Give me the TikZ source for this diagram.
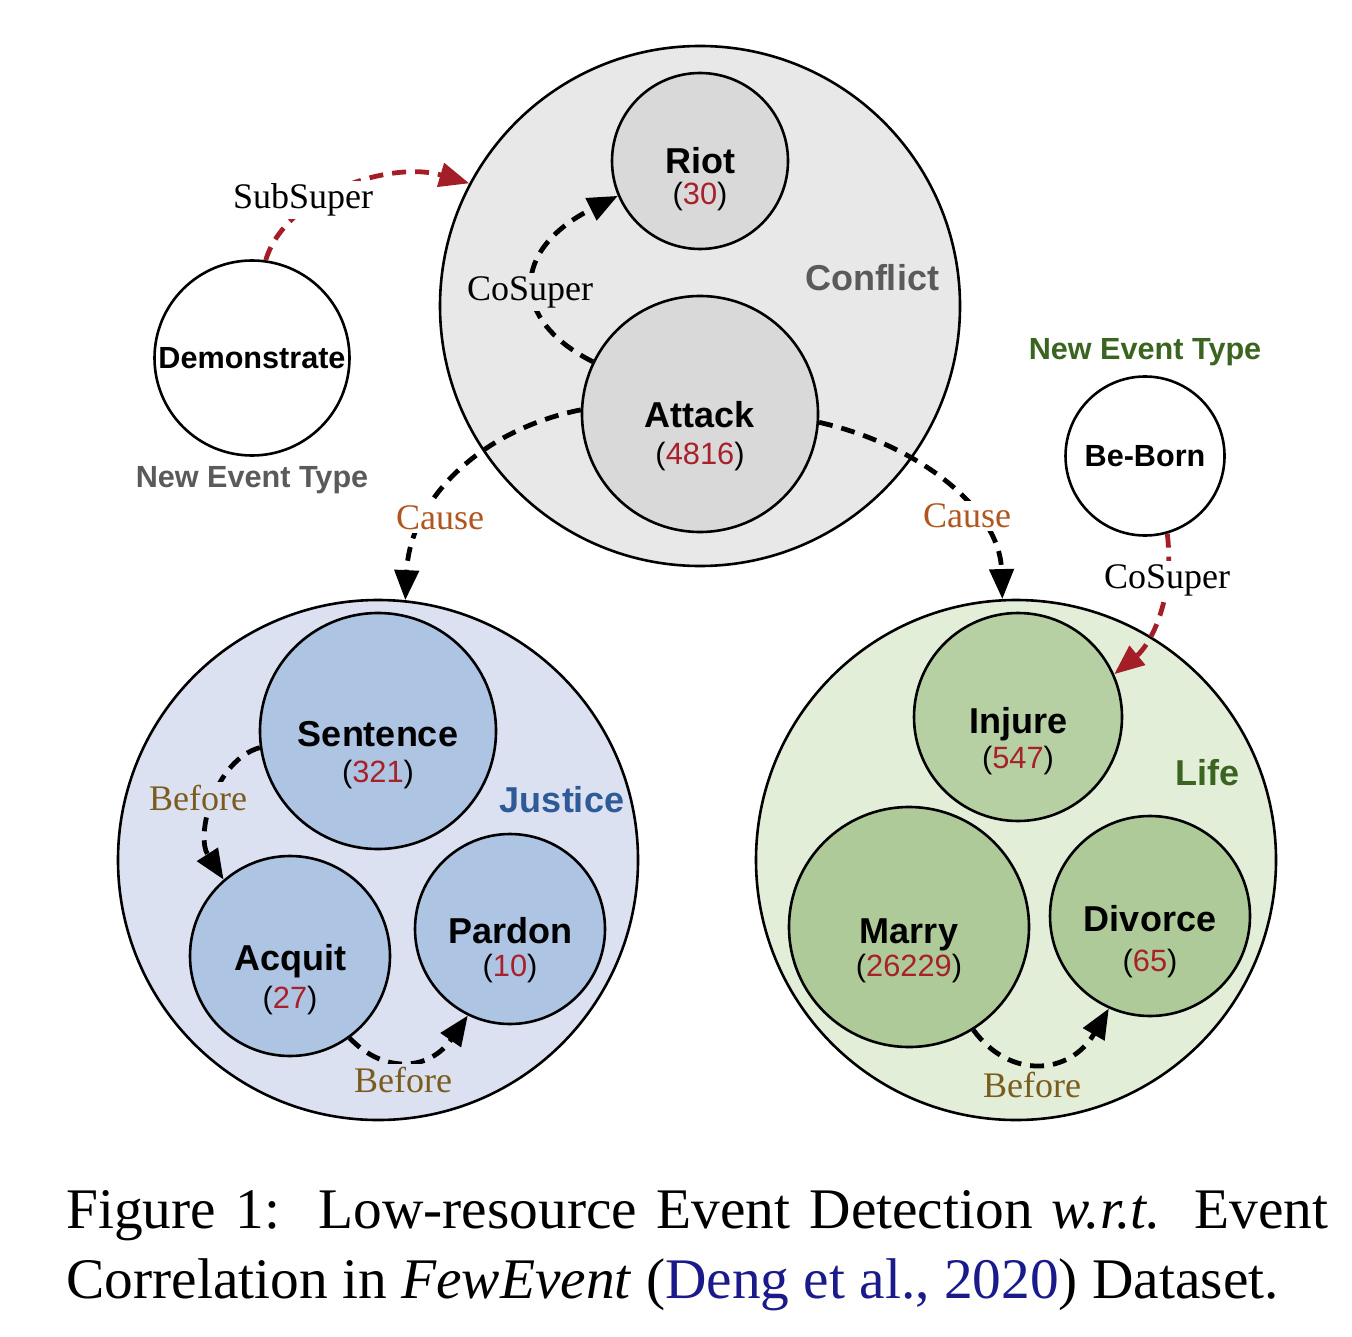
\documentclass[tikz,border=0pt]{standalone}
\usepackage{fontspec}
\setmainfont{Liberation Serif}
\setsansfont{Liberation Sans}
\usetikzlibrary{arrows.meta}
\definecolor{confout}{HTML}{E8E8E8}
\definecolor{confin}{HTML}{D9D9D9}
\definecolor{jusout}{HTML}{DCE1F1}
\definecolor{jusin}{HTML}{ADC4E3}
\definecolor{lifeout}{HTML}{E3EED8}
\definecolor{lifein}{HTML}{B6D0A4}
\definecolor{lifein2}{HTML}{AFCA99}
\definecolor{numred}{HTML}{A8202A}
\definecolor{graytxt}{HTML}{5A5A5A}
\definecolor{justxt}{HTML}{2E5A98}
\definecolor{lifetxt}{HTML}{3A6420}
\definecolor{causetxt}{HTML}{B0561E}
\definecolor{beforetxt}{HTML}{7A5C1E}
\definecolor{relred}{HTML}{A31E26}
\definecolor{citeblue}{HTML}{1A1A8A}
\newcommand{\cnum}[1]{(\textcolor{numred}{#1})}
\begin{document}
\begin{tikzpicture}[x=0.5pt,y=-0.5pt,
  ev/.style={circle, draw=black, line width=1.3pt, inner sep=0pt},
  nm/.style={font=\sffamily\bfseries\fontsize{18}{20}\selectfont, anchor=base, inner sep=0pt},
  cnt/.style={font=\sffamily\fontsize{15.4}{18}\selectfont, anchor=base, inner sep=0pt},
  grp/.style={font=\sffamily\bfseries\fontsize{18}{20}\selectfont, inner sep=0pt},
  newt/.style={font=\sffamily\bfseries\fontsize{15.3}{18}\selectfont, inner sep=0pt},
  rel/.style={dash pattern=on 7pt off 4.5pt, line width=2.4pt, -{Triangle[length=15pt,width=12pt]}},
  redrel/.style={rel, color=relred},
  elab/.style={font=\fontsize{18}{20}\selectfont, inner sep=1.5pt},
  captxt/.style={font=\fontsize{28.7}{35}\selectfont, anchor=base west, inner sep=0pt}]
\useasboundingbox (0,0) rectangle (1352,1336);

% group circles
\node[ev, fill=confout, minimum size=260pt] (conflict) at (700,306) {};
\node[ev, fill=jusout, minimum size=260pt] (justice) at (378,860) {};
\node[ev, fill=lifeout, minimum size=260pt] (life) at (1016,860) {};

% inner circles
\node[ev, fill=confin, minimum size=88pt] (riot) at (700,161) {};
\node[ev, fill=confin, minimum size=118pt] (attack) at (700,414) {};
\node[ev, fill=jusin, minimum size=118pt] (sentence) at (378,731) {};
\node[ev, fill=jusin, minimum size=100pt] (acquit) at (290,956) {};
\node[ev, fill=jusin, minimum size=95pt] (pardon) at (510,929) {};
\node[ev, fill=lifein, minimum size=104pt] (injure) at (1018,717) {};
\node[ev, fill=lifein2, minimum size=120pt] (marry) at (909,927) {};
\node[ev, fill=lifein2, minimum size=100pt] (divorce) at (1150,916) {};

% new event types
\node[ev, fill=white, minimum size=97.5pt] (demo) at (252,358) {};
\node[newt] (demoT) at (252,358) {Demonstrate};
\node[ev, fill=white, minimum size=79.5pt] (beborn) at (1145,456) {};
\node[newt] (bebornT) at (1145,456) {Be-Born};
\node[newt, text=graytxt] (newA) at (252,480) {New Event Type};
\node[newt, text=lifetxt] (newB) at (1145,352) {New Event Type};

% node texts
\node[nm] (riotN) at (700,174) {Riot};
\node[cnt] (riotC) at (700,205) {\cnum{30}};
\node[nm] (attackN) at (700,428) {Attack};
\node[cnt] (attackC) at (700,464) {\cnum{4816}};
\node[nm] (sentenceN) at (378,746) {Sentence};
\node[cnt] (sentenceC) at (378,782) {\cnum{321}};
\node[nm] (acquitN) at (290,970) {Acquit};
\node[cnt] (acquitC) at (290,1008) {\cnum{27}};
\node[nm] (pardonN) at (510,943) {Pardon};
\node[cnt] (pardonC) at (510,976) {\cnum{10}};
\node[nm] (injureN) at (1018,733) {Injure};
\node[cnt] (injureC) at (1018,768) {\cnum{547}};
\node[nm] (marryN) at (909,943) {Marry};
\node[cnt] (marryC) at (909,976) {\cnum{26229}};
\node[nm] (divorceN) at (1150,931) {Divorce};
\node[cnt] (divorceC) at (1150,971) {\cnum{65}};

% group labels
\node[grp, text=graytxt] (conflictL) at (872,278) {Conflict};
\node[grp, text=justxt] (justiceL) at (562,800) {Justice};
\node[grp, text=lifetxt] (lifeL) at (1207,773) {Life};

% relations
\draw[redrel] (demo.82) .. controls (285,195) and (390,160) .. (conflict.152);
\node[elab, fill=white] (subsuperL) at (303,200) {SubSuper};

\draw[rel] (attack.154) .. controls (510,320) and (510,250) .. (riot.203);
\node[elab, fill=confout] (cosuperL) at (530,292) {CoSuper};

\draw[rel] (attack.178) .. controls (480,430) and (410,500) .. (justice.84);
\node[elab, fill=white, text=causetxt] (causeA) at (440,518) {Cause};

\draw[rel] (attack.-4) .. controls (920,445) and (1000,510) .. (life.93);
\node[elab, fill=white, text=causetxt] (causeB) at (967,516) {Cause};

\draw[redrel] (beborn.-74) .. controls (1175,600) and (1150,645) .. (injure.24);
\node[elab, fill=white] (cosuperR) at (1167,580) {CoSuper};

\draw[rel] (sentence.188) .. controls (215,760) and (195,835) .. (acquit.131);
\node[elab, fill=jusout, text=beforetxt] (beforeA) at (198,798) {Before};

\draw[rel] (acquit.-54) .. controls (385,1075) and (430,1070) .. (pardon.-116);
\node[elab, fill=jusout, text=beforetxt] (beforeB) at (403,1080) {Before};

\draw[rel] (marry.-58) .. controls (1010,1080) and (1070,1075) .. (divorce.-114);
\node[elab, fill=lifeout, text=beforetxt] (beforeC) at (1032,1085) {Before};

% caption
\node[captxt] (cap1) at (66,1228) {\makebox[631pt][s]{Figure 1:\ \ Low-resource Event Detection \textit{w.r.t.} Event}};
\node[captxt] (cap2) at (66,1298) {Correlation in \textit{FewEvent} (\textcolor{citeblue}{Deng et al., 2020}) Dataset.};
\end{tikzpicture}
\end{document}
